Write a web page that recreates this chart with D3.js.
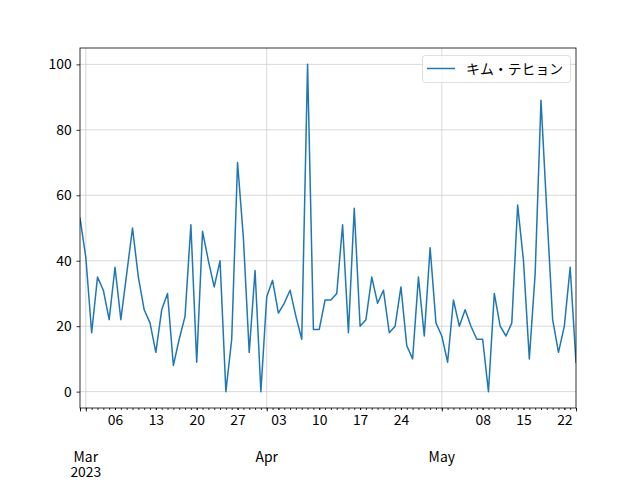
<!DOCTYPE html>
<html>
<head>
<meta charset="utf-8">
<script src="https://cdn.jsdelivr.net/npm/d3@7"></script>
<style>
  html, body { margin: 0; padding: 0; background: #fff; }
  svg { display: block; }
  text { font-family: "Noto Sans CJK JP", "DejaVu Sans", sans-serif; }
</style>
</head>
<body>
<svg id="chart" width="640" height="480"></svg>
<script>
// ---- data ----
const seriesName = "キム・テヒョン";
const startDate = "2023-02-28";
const endDate = "2023-05-24";
const values = [
  53, 41, 18, 35, 31, 22, 38, 22, 36, 50,
  35, 25, 21, 12, 25, 30, 8, 16, 23, 51,
  9, 49, 40, 32, 40, 0, 16, 70, 47, 12,
  37, 0, 29, 34, 24, 27, 31, 23, 16, 100,
  19, 19, 28, 28, 30, 51, 18, 56, 20, 22,
  35, 27, 31, 18, 20, 32, 14, 10, 35, 17,
  44, 21, 17, 9, 28, 20, 25, 20, 16, 16,
  0, 30, 20, 17, 21, 57, 40, 10, 36, 89,
  55, 22, 12, 20, 38, 9
];
const yTicks = [0, 20, 40, 60, 80, 100];
const weekTickLabels = ["06", "13", "20", "27", "03", "10", "17", "24", "08", "15", "22"];
const monthTickLabels = [["Mar", "2023"], ["Apr"], ["May"]];

// ---- layout ----
const margin = { left: 80, right: 576, top: 48, bottom: 408 };
const parse = d3.timeParse("%Y-%m-%d");
const x0 = parse(startDate), x1 = parse(endDate);
const dates = values.map((v, i) => d3.timeDay.offset(x0, i));
const data = values.map((v, i) => ({ date: dates[i], value: v }));

const x = d3.scaleTime().domain([x0, x1]).range([margin.left, margin.right]);
const y = d3.scaleLinear().domain([-5, 105]).range([margin.bottom, margin.top]);

const svg = d3.select("#chart");
const fs = 13.9;
const gridColor = "#cfcfcf";

// grid
const monthDates = d3.timeMonth.range(d3.timeMonth.ceil(x0), x1);
svg.append("g").selectAll("line").data(yTicks).join("line")
  .attr("x1", margin.left).attr("x2", margin.right)
  .attr("y1", d => y(d)).attr("y2", d => y(d))
  .attr("stroke", gridColor).attr("stroke-width", 0.8);
svg.append("g").selectAll("line").data(monthDates).join("line")
  .attr("x1", d => x(d)).attr("x2", d => x(d))
  .attr("y1", margin.top).attr("y2", margin.bottom)
  .attr("stroke", gridColor).attr("stroke-width", 0.8);

// line
const line = d3.line().x(d => x(d.date)).y(d => y(d.value));
svg.append("clipPath").attr("id", "clip").append("rect")
  .attr("x", margin.left).attr("y", margin.top)
  .attr("width", margin.right - margin.left).attr("height", margin.bottom - margin.top);
svg.append("path").datum(data)
  .attr("clip-path", "url(#clip)")
  .attr("fill", "none").attr("stroke", "#1f77b4").attr("stroke-width", 1.5)
  .attr("stroke-linejoin", "round").attr("stroke-linecap", "square")
  .attr("d", line);

// x axis: daily minor ticks
const dayDates = d3.timeDay.range(x0, d3.timeDay.offset(x1, 1));
const xMinor = svg.append("g").attr("transform", `translate(0,${margin.bottom})`)
  .call(d3.axisBottom(x).tickValues(dayDates).tickSize(2).tickFormat(""));
// weekly labels (Mondays that are not the first of a month)
const mondays = d3.timeMonday.range(x0, d3.timeDay.offset(x1, 1)).filter(d => d.getDate() !== 1);
const xWeek = svg.append("g").attr("transform", `translate(0,${margin.bottom})`)
  .call(d3.axisBottom(x).tickValues(mondays).tickSize(2).tickPadding(4.9)
    .tickFormat((d, i) => weekTickLabels[i]));
// major ticks (months and ends)
const majorDates = [x0].concat(monthDates, [x1]);
const xMajor = svg.append("g").attr("transform", `translate(0,${margin.bottom})`)
  .call(d3.axisBottom(x).tickValues(majorDates).tickSize(3.5).tickFormat(""));
[xMinor, xWeek, xMajor].forEach(g => {
  g.select(".domain").remove();
  g.selectAll("line").attr("stroke", "#000").attr("stroke-width", 0.8);
  g.selectAll("text").attr("font-size", fs).attr("fill", "#000")
    .attr("font-family", "'Noto Sans CJK JP', sans-serif");
});
// month labels
const ml = svg.append("g");
monthDates.forEach((d, i) => {
  monthTickLabels[i].forEach((s, j) => {
    ml.append("text").attr("x", x(d)).attr("y", 462 + j * 15)
      .attr("text-anchor", "middle").attr("font-size", fs).attr("fill", "#000")
      .text(s);
  });
});

// y axis
const yAxis = svg.append("g").attr("transform", `translate(${margin.left},0)`)
  .call(d3.axisLeft(y).tickValues(yTicks).tickSize(3.5).tickPadding(4.9));
yAxis.select(".domain").remove();
yAxis.selectAll("line").attr("stroke", "#000").attr("stroke-width", 0.8);
yAxis.selectAll("text").attr("font-size", fs).attr("fill", "#000")
  .attr("font-family", "'Noto Sans CJK JP', sans-serif");

// spines
svg.append("rect")
  .attr("x", margin.left).attr("y", margin.top)
  .attr("width", margin.right - margin.left).attr("height", margin.bottom - margin.top)
  .attr("fill", "none").attr("stroke", "#000").attr("stroke-width", 0.8);

// legend
const lg = svg.append("g");
lg.append("rect").attr("x", 422.5).attr("y", 55.5).attr("width", 148).attr("height", 27)
  .attr("rx", 2.8).attr("fill", "#fff").attr("fill-opacity", 0.8)
  .attr("stroke", "#d6d6d6").attr("stroke-width", 0.8);
lg.append("line").attr("x1", 427).attr("x2", 455).attr("y1", 68.5).attr("y2", 68.5)
  .attr("stroke", "#1f77b4").attr("stroke-width", 1.5);
lg.append("text").attr("x", 466).attr("y", 73.5).attr("font-size", fs).attr("fill", "#000")
  .text(seriesName);
</script>
</body>
</html>
